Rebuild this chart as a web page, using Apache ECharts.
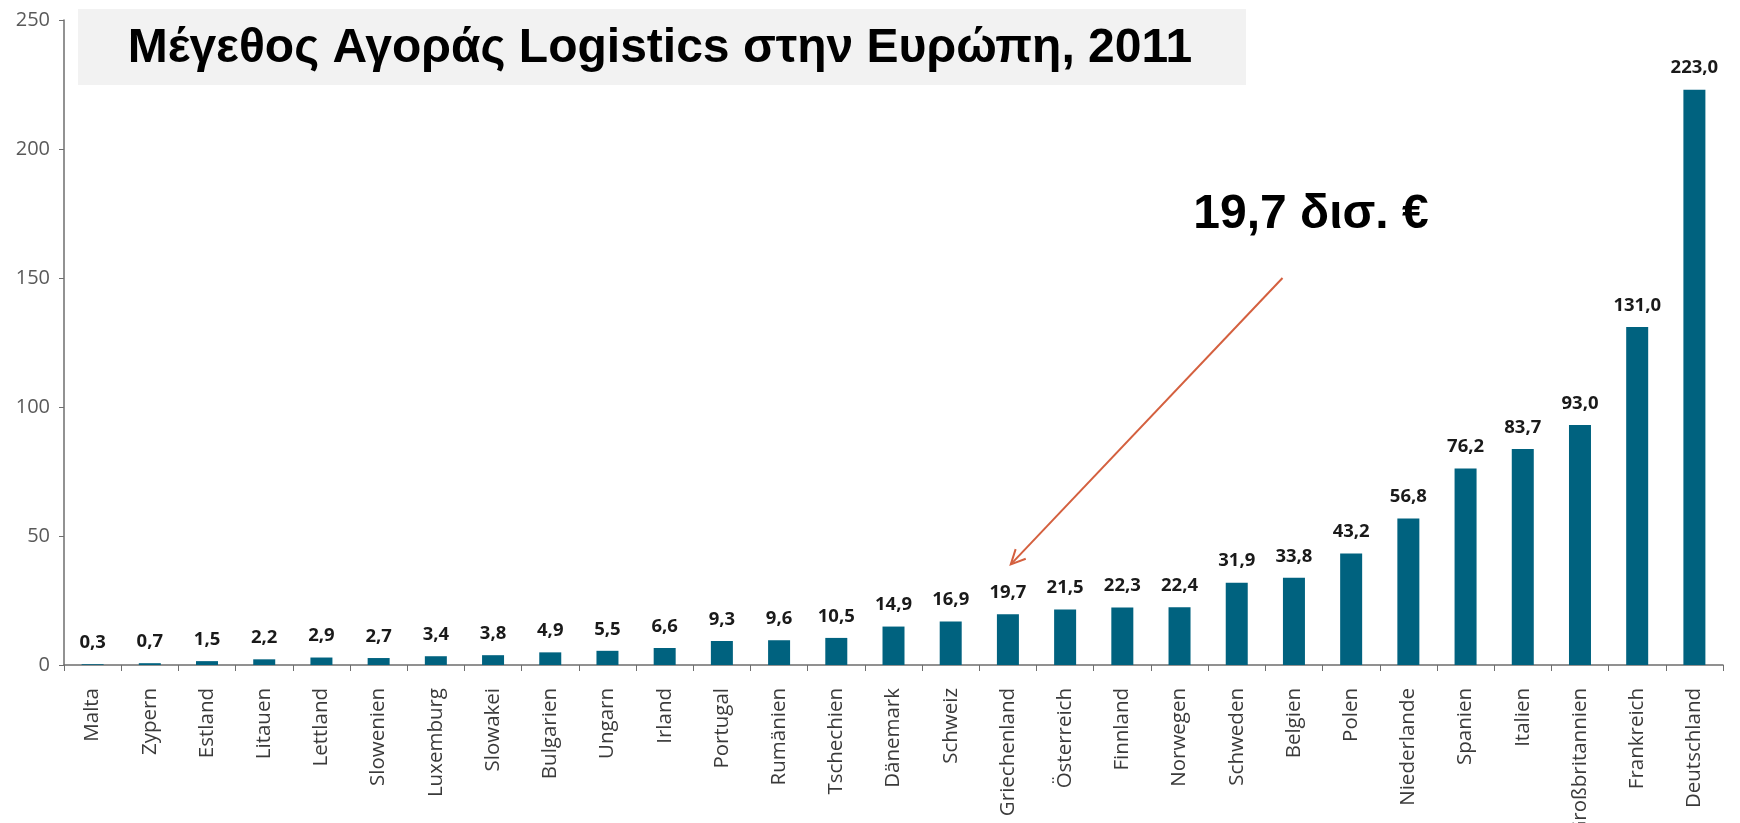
<!DOCTYPE html>
<html><head><meta charset="utf-8">
<script src="https://cdn.jsdelivr.net/npm/echarts@6/dist/echarts.min.js"></script>
<style>html,body{margin:0;padding:0;background:#fff}#c{width:1740px;height:823px}</style>
</head><body><div id="c"></div>
<script>
const categories = ['Malta','Zypern','Estland','Litauen','Lettland','Slowenien','Luxemburg','Slowakei','Bulgarien','Ungarn','Irland','Portugal','Rumänien','Tschechien','Dänemark','Schweiz','Griechenland','Österreich','Finnland','Norwegen','Schweden','Belgien','Polen','Niederlande','Spanien','Italien','Großbritannien','Frankreich','Deutschland'];
const values = [0.3,0.7,1.5,2.2,2.9,2.7,3.4,3.8,4.9,5.5,6.6,9.3,9.6,10.5,14.9,16.9,19.7,21.5,22.3,22.4,31.9,33.8,43.2,56.8,76.2,83.7,93.0,131.0,223.0];
const yTicks = [0,50,100,150,200,250];
const titleText = 'Μέγεθος Αγοράς Logistics στην Ευρώπη, 2011';
const calloutText = '19,7 δισ. €';

const chart = echarts.init(document.getElementById('c'));
const axisColor = '#6e6e6e';
chart.setOption({
  animation: false,
  grid: {left: 64, right: 17, top: 20, bottom: 158, containLabel: false, outerBoundsMode: 'none'},
  xAxis: {
    type: 'category', data: categories, boundaryGap: true,
    axisLine: {lineStyle: {color: axisColor, width: 1.5}},
    axisTick: {show: true, length: 6, alignWithLabel: false, lineStyle: {color: axisColor}},
    axisLabel: {rotate: 90, interval: 0, margin: 23, fontFamily: 'Open Sans', fontSize: 20.5, color: '#3a3a3a'}
  },
  yAxis: {
    type: 'value', min: yTicks[0], max: yTicks[yTicks.length-1], interval: 50,
    splitLine: {show: false},
    axisLine: {show: true, lineStyle: {color: axisColor, width: 1.5}},
    axisTick: {show: true, length: 5, lineStyle: {color: axisColor}},
    axisLabel: {margin: 14, fontFamily: 'Open Sans', fontSize: 20, color: '#595959'}
  },
  series: [{
    type: 'bar', data: values, barWidth: 22,
    itemStyle: {color: '#00627f'},
    label: {show: true, position: 'top', distance: 12, fontFamily: 'Open Sans', fontWeight: 'bold', fontSize: 18.5, color: '#1a1a1a',
      formatter: p => p.value.toFixed(1).replace('.', ',')}
  }]
});

// annotation: title box, callout text, arrow
const g = categories.indexOf('Griechenland');
const p0 = chart.convertToPixel({seriesIndex:0}, [g, 39]);
const p1 = chart.convertToPixel({seriesIndex:0}, [g+1, 39]);
const step = p1[0] - p0[0];
const tip = [p0[0] + 0.05*step, p0[1]];
const startPt = chart.convertToPixel({seriesIndex:0}, [20, 150]);
startPt[0] += 0.8*step;
const ang = Math.atan2(tip[1]-startPt[1], tip[0]-startPt[0]);
const hl = 16, ha = 0.45;
const h1 = [tip[0]-hl*Math.cos(ang-ha), tip[1]-hl*Math.sin(ang-ha)];
const h2 = [tip[0]-hl*Math.cos(ang+ha), tip[1]-hl*Math.sin(ang+ha)];
chart.setOption({
  graphic: [
    {type:'rect', shape:{x:78, y:9, width:1168, height:76}, style:{fill:'#f2f2f2'}, z:0},
    {type:'text', x:660, y:49, style:{text:titleText, font:'bold 48px "Liberation Sans", Arial, sans-serif', fill:'#000', align:'center', verticalAlign:'middle'}, z:10},
    {type:'text', x:1311, y:215, style:{text:calloutText, font:'bold 48px "Liberation Sans", Arial, sans-serif', fill:'#000', align:'center', verticalAlign:'middle'}, z:10},
    {type:'line', shape:{x1:startPt[0], y1:startPt[1], x2:tip[0], y2:tip[1]}, style:{stroke:'#d4603f', lineWidth:2}, z:10},
    {type:'polyline', shape:{points:[h1, tip, h2]}, style:{stroke:'#d4603f', lineWidth:2, fill:null}, z:10}
  ]
});
</script></body></html>
